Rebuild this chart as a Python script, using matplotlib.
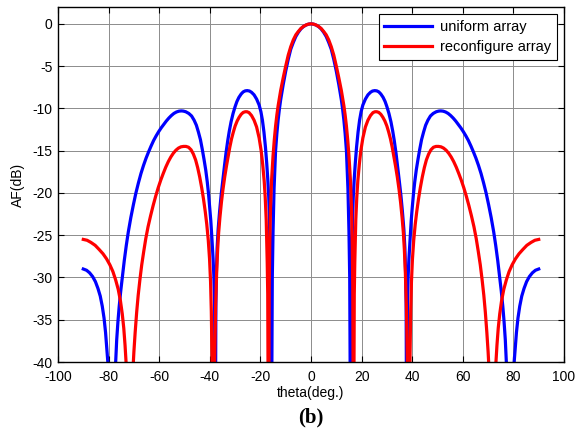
import matplotlib
matplotlib.use("Agg")
import matplotlib.pyplot as plt

# array factor of the two arrays, in dB, sampled along theta (deg)
theta_uniform = [
    -90, -88.7, -87.5, -86.3, -85.2, -84.2, -83.3,
    -82.5, -81.8, -81.2, -80.7, -80.3, -78.8, -77.2, -76.8, -76.3, -75.8,
    -75.2, -74.5, -73.8, -73.0, -72.2, -71.2, -70.2, -69.2, -68.2, -67.2,
    -66.2, -65.2, -64.2, -63.2, -62.2, -61.2, -60.2, -59.2, -58.2, -57.2,
    -56.2, -55.2, -54.2, -53.2, -52.2, -51.3, -50.5, -49.5, -48.3, -47.2,
    -46.2, -45.3, -44.5, -43.7, -43.0, -42.3, -41.6, -41.0, -40.5, -40.0,
    -39.6, -39.2, -38.7, -38.4, -38.1, -37.85, -37.6, -37.4, -37.1, -36.7,
    -36.1, -35.5, -34.9, -34.2, -33.6, -32.9, -32.3, -31.6, -30.8, -30.0,
    -29.3, -28.5, -27.6, -26.8, -26.0, -25.2, -24.3, -23.5, -22.5, -21.5,
    -20.5, -19.8, -19.2, -18.6, -18.0, -17.5, -17.1, -16.7, -16.4, -16.0,
    -15.7, -15.3, -15.0, -14.6, -14, -13.5, -13, -12.5, -12, -11,
    -10, -9, -8, -7, -6, -5, -4, -3, -2, -1,
    0,
    1, 2, 3, 4, 5, 6, 7, 8, 9, 10,
    11, 12, 12.5, 13, 13.5, 14, 14.6, 15.0, 15.3, 15.7,
    16.0, 16.4, 16.7, 17.1, 17.5, 18.0, 18.6, 19.2, 19.8, 20.5,
    21.5, 22.5, 23.5, 24.3, 25.2, 26.0, 26.8, 27.6, 28.5, 29.3,
    30.0, 30.8, 31.6, 32.3, 32.9, 33.6, 34.2, 34.9, 35.5, 36.1,
    36.7, 37.1, 37.4, 37.6, 37.85, 38.1, 38.4, 38.7, 39.2, 39.6,
    40.0, 40.5, 41.0, 41.6, 42.3, 43.0, 43.7, 44.5, 45.3, 46.2,
    47.2, 48.3, 49.5, 50.5, 51.3, 52.2, 53.2, 54.2, 55.2, 56.2,
    57.2, 58.2, 59.2, 60.2, 61.2, 62.2, 63.2, 64.2, 65.2, 66.2,
    67.2, 68.2, 69.2, 70.2, 71.2, 72.2, 73.0, 73.8, 74.5, 75.2,
    75.8, 76.3, 76.8, 77.2, 78.8, 80.3, 80.7, 81.2, 81.8, 82.5,
    83.3, 84.2, 85.2, 86.3, 87.5, 88.7, 90,
]
af_uniform = [
    -29.0, -29.15, -29.45, -29.9, -30.5, -31.3, -32.2,
    -33.4, -34.8, -36.5, -38.5, -40, -55, -40, -37.4, -35.2, -33.4,
    -31.6, -29.8, -28.0, -26.2, -24.6, -22.9, -21.4, -20.0, -18.8, -17.7,
    -16.75, -15.9, -15.15, -14.45, -13.8, -13.25, -12.75, -12.3, -11.9, -11.5,
    -11.15, -10.85, -10.6, -10.43, -10.33, -10.3, -10.32, -10.4, -10.6, -10.9,
    -11.4, -12.0, -12.8, -13.7, -14.8, -16.0, -17.3, -18.7, -20.1, -21.8,
    -23.3, -25.2, -27.8, -29.8, -33, -55, -33, -29.5, -26.5, -24.3,
    -22.1, -20.2, -18.6, -16.8, -15.3, -13.8, -12.7, -11.6, -10.6, -9.8,
    -9.2, -8.7, -8.3, -8.05, -7.93, -7.9, -7.95, -8.1, -8.4, -8.9,
    -9.6, -10.4, -11.4, -12.8, -14.6, -16.5, -18.3, -20.5, -23.2, -32,
    -55, -30, -24.5, -19.5, -15.0, -13.0, -11.4, -10.1, -9.0, -7.2,
    -5.6, -4.2, -3.0, -2.2, -1.5, -1.0, -0.6, -0.33, -0.15, -0.04,
    0.0,
    -0.04, -0.15, -0.33, -0.6, -1.0, -1.5, -2.2, -3.0, -4.2, -5.6,
    -7.2, -9.0, -10.1, -11.4, -13.0, -15.0, -19.5, -24.5, -30, -55,
    -32, -23.2, -20.5, -18.3, -16.5, -14.6, -12.8, -11.4, -10.4, -9.6,
    -8.9, -8.4, -8.1, -7.95, -7.9, -7.93, -8.05, -8.3, -8.7, -9.2,
    -9.8, -10.6, -11.6, -12.7, -13.8, -15.3, -16.8, -18.6, -20.2, -22.1,
    -24.3, -26.5, -29.5, -33, -55, -33, -29.8, -27.8, -25.2, -23.3,
    -21.8, -20.1, -18.7, -17.3, -16.0, -14.8, -13.7, -12.8, -12.0, -11.4,
    -10.9, -10.6, -10.4, -10.32, -10.3, -10.33, -10.43, -10.6, -10.85, -11.15,
    -11.5, -11.9, -12.3, -12.75, -13.25, -13.8, -14.45, -15.15, -15.9, -16.75,
    -17.7, -18.8, -20.0, -21.4, -22.9, -24.6, -26.2, -28.0, -29.8, -31.6,
    -33.4, -35.2, -37.4, -40, -55, -40, -38.5, -36.5, -34.8, -33.4,
    -32.2, -31.3, -30.5, -29.9, -29.45, -29.15, -29.0,
]

theta_reconf = [
    -90, -88.5, -87.0,
    -85.3, -83.7, -82.2, -80.8, -79.5, -78.3, -77.2, -76.2, -75.3, -74.6,
    -74.0, -73.5, -73.1, -71.7, -70.3, -70.0, -69.5, -68.9, -68.3, -67.6,
    -66.9, -66.1, -65.3, -64.4, -63.4, -62.4, -61.4, -60.4, -59.4, -58.4,
    -57.4, -56.4, -55.4, -54.4, -53.4, -52.4, -51.4, -50.4, -49.4, -48.4,
    -47.4, -46.5, -45.6, -44.8, -44.0, -43.2, -42.5, -41.8, -41.2, -40.6,
    -40.1, -39.7, -39.4, -39.1, -38.6, -38.1, -37.7, -37.3, -36.9, -36.5,
    -36.0, -35.4, -34.8, -34.1, -33.4, -32.7, -32.1, -31.4, -30.7, -30.0,
    -29.2, -28.4, -27.6, -26.8, -26.0, -25.3, -24.5, -23.5, -22.5, -21.5,
    -20.5, -19.7, -19.1, -18.5, -18.1, -17.7, -17.3, -17.1, -16.8, -16.5,
    -16.3, -16.0, -15.6, -15, -14.5, -14, -13.5, -13, -12, -11,
    -10, -9, -8, -7, -6, -5, -4, -3, -2, -1,
    0,
    1, 2, 3, 4, 5, 6, 7, 8, 9, 10,
    11, 12, 13, 13.5, 14, 14.5, 15, 15.6, 16.0, 16.3,
    16.5, 16.8, 17.1, 17.3, 17.7, 18.1, 18.5, 19.1, 19.7, 20.5,
    21.5, 22.5, 23.5, 24.5, 25.3, 26.0, 26.8, 27.6, 28.4, 29.2,
    30.0, 30.7, 31.4, 32.1, 32.7, 33.4, 34.1, 34.8, 35.4, 36.0,
    36.5, 36.9, 37.3, 37.7, 38.1, 38.6, 39.1, 39.4, 39.7, 40.1,
    40.6, 41.2, 41.8, 42.5, 43.2, 44.0, 44.8, 45.6, 46.5, 47.4,
    48.4, 49.4, 50.4, 51.4, 52.4, 53.4, 54.4, 55.4, 56.4, 57.4,
    58.4, 59.4, 60.4, 61.4, 62.4, 63.4, 64.4, 65.3, 66.1, 66.9,
    67.6, 68.3, 68.9, 69.5, 70.0, 70.3, 71.7, 73.1, 73.5, 74.0,
    74.6, 75.3, 76.2, 77.2, 78.3, 79.5, 80.8, 82.2, 83.7, 85.3,
    87.0, 88.5, 90,
]
af_reconf = [
    -25.5, -25.6, -25.85,
    -26.2, -26.7, -27.2, -27.8, -28.5, -29.3, -30.3, -31.4, -32.8, -34.3,
    -36.0, -38.0, -40, -55, -40.5, -38.8, -36.5, -34.1, -32.1, -30.2,
    -28.5, -26.9, -25.4, -24.0, -22.7, -21.5, -20.4, -19.4, -18.5, -17.7,
    -16.95, -16.3, -15.75, -15.3, -14.95, -14.7, -14.55, -14.5, -14.5, -14.6,
    -14.9, -15.4, -16.1, -17.0, -18.1, -19.4, -20.7, -22.2, -23.7, -25.6,
    -27.8, -30.5, -34, -40, -55, -40, -33.5, -29.5, -26.7, -24.7,
    -22.9, -21.1, -19.6, -18.1, -16.8, -15.6, -14.6, -13.6, -12.8, -12.1,
    -11.5, -11.05, -10.7, -10.48, -10.4, -10.4, -10.5, -10.85, -11.4, -12.2,
    -13.5, -15.0, -16.6, -18.6, -20.5, -23.2, -28.3, -32, -55, -31,
    -26, -21.8, -18.6, -15.6, -13.7, -12.1, -10.8, -9.7, -7.9, -6.4,
    -5.0, -3.7, -2.7, -1.9, -1.3, -0.9, -0.55, -0.31, -0.14, -0.035,
    0.0,
    -0.035, -0.14, -0.31, -0.55, -0.9, -1.3, -1.9, -2.7, -3.7, -5.0,
    -6.4, -7.9, -9.7, -10.8, -12.1, -13.7, -15.6, -18.6, -21.8, -26,
    -31, -55, -32, -28.3, -23.2, -20.5, -18.6, -16.6, -15.0, -13.5,
    -12.2, -11.4, -10.85, -10.5, -10.4, -10.4, -10.48, -10.7, -11.05, -11.5,
    -12.1, -12.8, -13.6, -14.6, -15.6, -16.8, -18.1, -19.6, -21.1, -22.9,
    -24.7, -26.7, -29.5, -33.5, -40, -55, -40, -34, -30.5, -27.8,
    -25.6, -23.7, -22.2, -20.7, -19.4, -18.1, -17.0, -16.1, -15.4, -14.9,
    -14.6, -14.5, -14.5, -14.55, -14.7, -14.95, -15.3, -15.75, -16.3, -16.95,
    -17.7, -18.5, -19.4, -20.4, -21.5, -22.7, -24.0, -25.4, -26.9, -28.5,
    -30.2, -32.1, -34.1, -36.5, -38.8, -40.5, -55, -40, -38.0, -36.0,
    -34.3, -32.8, -31.4, -30.3, -29.3, -28.5, -27.8, -27.2, -26.7, -26.2,
    -25.85, -25.6, -25.5,
]

x_ticks = [-100, -80, -60, -40, -20, 0, 20, 40, 60, 80, 100]
y_ticks = [0, -5, -10, -15, -20, -25, -30, -35, -40]

plt.rcParams["font.family"] = ["Liberation Sans", "DejaVu Sans"]
plt.rcParams["axes.unicode_minus"] = False

fig = plt.figure(figsize=(5.77, 4.32), dpi=100)
ax = fig.add_axes([0.1005, 0.162, 0.877, 0.822])

ax.plot(theta_uniform, af_uniform, color="#0000ff", lw=2.3,
        solid_joinstyle="round", label="uniform array")
ax.plot(theta_reconf, af_reconf, color="#ff0000", lw=2.3,
        solid_joinstyle="round", label="reconfigure array")

ax.set_xlim(-100, 100)
ax.set_ylim(-40, 2)
ax.set_xticks(x_ticks)
ax.set_yticks(y_ticks)
ax.grid(True, color="0.55", lw=0.7)
ax.set_axisbelow(True)
ax.tick_params(direction="in", top=True, right=True, labelsize=10,
               length=4, width=0.8)
ax.tick_params(axis="x", pad=6)
ax.tick_params(axis="y", pad=4)
for sp in ax.spines.values():
    sp.set_linewidth(1.0)

ax.set_xlabel("theta(deg.)", fontsize=10, labelpad=1)
ax.set_ylabel("AF(dB)", fontsize=10, labelpad=5)

leg = ax.legend(loc="upper right", fontsize=10.5, fancybox=False, framealpha=1,
                edgecolor="black", handlelength=3.3, borderaxespad=0.5,
                borderpad=0.4, labelspacing=0.4, handletextpad=0.5)
leg.get_frame().set_linewidth(0.8)

fig.text(0.539, 0.033, "(b)", ha="center", va="center", fontsize=15,
         fontweight="bold", family=["Liberation Serif", "DejaVu Serif"])

fig.savefig("out.png", dpi=100)
